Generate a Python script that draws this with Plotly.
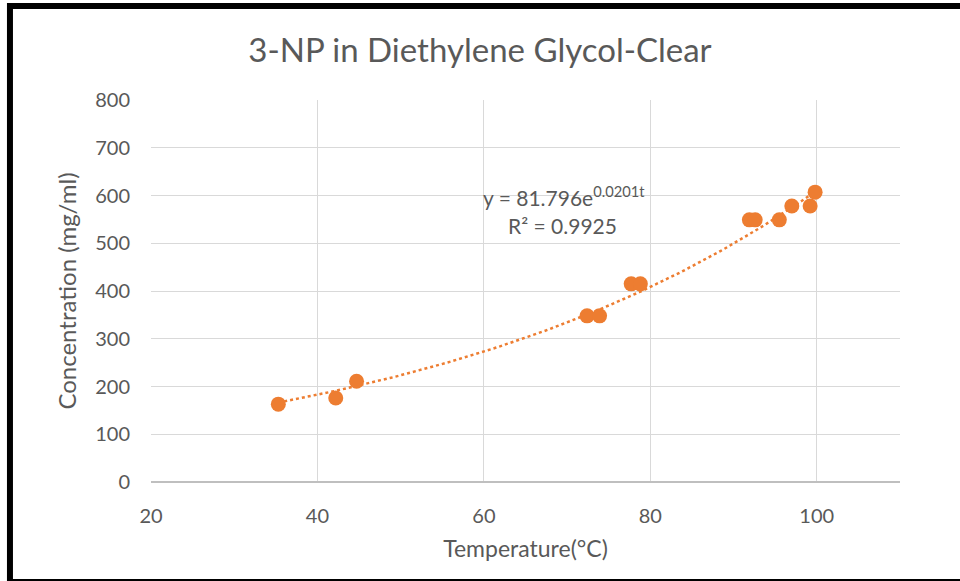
import numpy as np
import plotly.graph_objects as go

# ── Data ─────────────────────────────────────────────────────────────────────
temperature = [35.3, 42.2, 44.7, 72.4, 73.9, 77.7, 78.8, 91.9, 92.6, 95.5, 97.0, 99.2, 99.8]
concentration = [163, 176, 211, 348, 348, 415, 415, 549, 549, 549, 578, 578, 607]

# exponential trendline coefficients as printed on the chart
fit_a = 81.796
fit_b = 0.0201

x_ticks = [20, 40, 60, 80, 100]
y_ticks = [0, 100, 200, 300, 400, 500, 600, 700, 800]

ORANGE = "#ED7D31"
GRID = "#D9D9D9"
TEXT = "#595959"
FONT = "Lato"

# ── Figure ───────────────────────────────────────────────────────────────────
trend_x = np.linspace(min(temperature), max(temperature), 120)
trend_y = fit_a * np.exp(fit_b * trend_x)

fig = go.Figure()
fig.add_trace(go.Scatter(
    x=trend_x, y=trend_y, mode="lines",
    line=dict(color=ORANGE, width=2.5, dash="dot"),
    hoverinfo="skip", showlegend=False,
))
fig.add_trace(go.Scatter(
    x=temperature, y=concentration, mode="markers",
    marker=dict(color=ORANGE, size=15, line=dict(width=0)),
    showlegend=False,
))

fig.add_annotation(
    x=69.6, y=598, xref="x", yref="y", showarrow=False,
    text="y = 81.796e<sup>0.0201t</sup>",
    font=dict(family=FONT, size=21, color=TEXT),
)
fig.add_annotation(
    x=69.5, y=537, xref="x", yref="y", showarrow=False,
    text="R² = 0.9925",
    font=dict(family=FONT, size=21, color=TEXT),
)

# black frame around the whole chart
fig.add_shape(
    type="rect", xref="paper", yref="paper",
    x0=-0.1883, x1=1.0854, y0=-0.2618, y1=1.2461,
    line=dict(color="black", width=6), fillcolor="rgba(0,0,0,0)",
    layer="above",
)

fig.update_layout(
    width=960, height=581,
    paper_bgcolor="white", plot_bgcolor="white",
    margin=dict(l=151, r=60, t=100, b=99),
    title=dict(
        text="3-NP in Diethylene Glycol-Clear",
        x=0.5, xanchor="center", y=0.914, yanchor="middle",
        font=dict(family=FONT, size=33, color=TEXT),
    ),
    font=dict(family=FONT, color=TEXT),
    xaxis=dict(
        range=[20, 110], tickvals=x_ticks,
        showgrid=True, gridcolor=GRID, gridwidth=1.3,
        zeroline=False, showline=False,
        ticks="outside", ticklen=16, tickcolor="rgba(0,0,0,0)",
        tickfont=dict(size=20, color=TEXT),
        title=dict(text="Temperature(°C)", font=dict(size=23, color=TEXT), standoff=14),
    ),
    yaxis=dict(
        range=[0, 800], tickvals=y_ticks,
        showgrid=True, gridcolor=GRID, gridwidth=1.3,
        zeroline=True, zerolinecolor="#BFBFBF", zerolinewidth=1.5,
        showline=False,
        ticks="outside", ticklen=16, tickcolor="rgba(0,0,0,0)",
        tickfont=dict(size=20, color=TEXT),
        title=dict(text="Concentration (mg/ml)", font=dict(size=24, color=TEXT), standoff=11),
    ),
)

# page body has an 8px default margin; drop it so the chart fills the window
fig.write_html(
    "out.html",
    config={"displayModeBar": False},
    post_script="document.body.style.margin='0px';",
)
